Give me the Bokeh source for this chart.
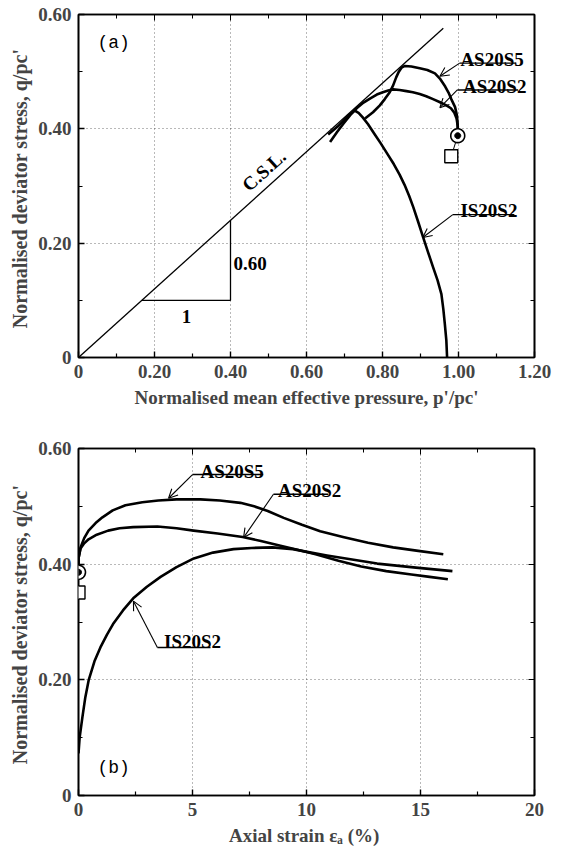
import math
from bokeh.plotting import figure
from bokeh.models import Range1d, FixedTicker, LinearAxis, Arrow, OpenHead, PolyAnnotation
from bokeh.layouts import column
from bokeh.core.properties import value
from bokeh.embed import file_html
from bokeh.resources import INLINE

# ---------------- data: (a) stress paths  p'/pc' vs q/pc' ----------------
is20s2_p = [0.970, 0.968, 0.964, 0.960, 0.955, 0.945, 0.933, 0.920, 0.907, 0.894, 0.881, 0.870, 0.858,
            0.845, 0.830, 0.812, 0.795, 0.778, 0.762, 0.748, 0.737, 0.727, 0.715, 0.700, 0.682, 0.657]
is20s2_q = [0.000, 0.030, 0.059, 0.085, 0.111, 0.135, 0.158, 0.184, 0.210, 0.237, 0.263, 0.283, 0.302,
            0.320, 0.338, 0.357, 0.375, 0.392, 0.408, 0.420, 0.428, 0.432, 0.426, 0.416, 0.404, 0.390]

as20s5_p = [0.998, 0.998, 0.996, 0.991, 0.981, 0.974, 0.965, 0.951, 0.938, 0.918, 0.898, 0.876, 0.859,
            0.850, 0.843, 0.836, 0.828, 0.819, 0.806, 0.793, 0.775, 0.754]
as20s5_q = [0.388, 0.405, 0.423, 0.438, 0.452, 0.463, 0.474, 0.488, 0.497, 0.503, 0.506, 0.509, 0.510,
            0.507, 0.500, 0.490, 0.476, 0.464, 0.452, 0.441, 0.429, 0.418]

as20s2_p = [0.998, 0.998, 0.995, 0.989, 0.980, 0.968, 0.950, 0.933, 0.915, 0.898, 0.880, 0.863, 0.845,
            0.828, 0.815, 0.801, 0.785, 0.767, 0.750, 0.732, 0.715, 0.697, 0.680, 0.662]
as20s2_q = [0.388, 0.405, 0.418, 0.428, 0.436, 0.441, 0.447, 0.452, 0.457, 0.461, 0.464, 0.466, 0.468,
            0.469, 0.467, 0.464, 0.460, 0.453, 0.446, 0.436, 0.424, 0.409, 0.394, 0.377]

csl_p = [0.0, 0.96]
csl_q = [0.0, 0.576]

tri_p = [0.167, 0.40, 0.40]
tri_q = [0.100, 0.100, 0.240]

start_circle_a = (0.998, 0.388)
start_square_a = (0.981, 0.352)

# ---------------- data: (b) axial strain (%) vs q/pc' ----------------
is20s2_e = [0.0, 0.05, 0.17, 0.30, 0.45, 0.70, 0.96, 1.25, 1.54, 1.95, 2.4, 3.0, 3.6, 4.3, 5.06, 5.9,
            6.8, 7.6, 8.5, 9.4, 10.2, 10.9, 12.0, 13.1, 14.8, 16.4]
is20s2_qb = [0.073, 0.100, 0.135, 0.170, 0.200, 0.232, 0.256, 0.278, 0.298, 0.320, 0.341, 0.361, 0.378,
             0.395, 0.410, 0.420, 0.426, 0.428, 0.429, 0.426, 0.420, 0.415, 0.408, 0.401, 0.394, 0.388]

as20s5_e = [0.0, 0.0, 0.09, 0.25, 0.44, 0.75, 1.05, 1.5, 2.06, 2.8, 3.5, 4.3, 5.35, 6.2, 7.1, 7.7, 8.3,
            9.0, 9.8, 10.6, 11.6, 12.7, 13.8, 14.9, 16.0]
as20s5_qb = [0.387, 0.410, 0.429, 0.445, 0.458, 0.471, 0.481, 0.493, 0.502, 0.507, 0.510, 0.512, 0.512,
             0.510, 0.506, 0.500, 0.492, 0.480, 0.468, 0.457, 0.447, 0.437, 0.429, 0.423, 0.417]

as20s2_e = [0.0, 0.0, 0.09, 0.25, 0.44, 0.8, 1.3, 1.8, 2.4, 3.46, 4.3, 5.05, 6.1, 7.2, 8.0, 8.86, 9.6,
            10.4, 11.4, 12.4, 13.5, 14.6, 15.4, 16.2]
as20s2_qb = [0.387, 0.410, 0.427, 0.436, 0.443, 0.451, 0.458, 0.462, 0.464, 0.465, 0.462, 0.458, 0.453,
             0.447, 0.440, 0.432, 0.425, 0.417, 0.406, 0.396, 0.388, 0.382, 0.378, 0.374]

start_circle_b = (0.0, 0.386)
start_square_b = (0.0, 0.351)

# ---------------- ticks ----------------
xa_ticks = [0, 0.2, 0.4, 0.6, 0.8, 1.0, 1.2]
xa_labels = ["0", "0.20", "0.40", "0.60", "0.80", "1.00", "1.20"]
xa_minor = [0.1, 0.3, 0.5, 0.7, 0.9, 1.1]
q_ticks = [0, 0.2, 0.4, 0.6]
q_labels = ["0", "0.20", "0.40", "0.60"]
q_minor = [0.1, 0.3, 0.5]
xb_ticks = [0, 5, 10, 15, 20]
xb_labels = ["0", "5", "10", "15", "20"]
xb_minor = [2.5, 7.5, 12.5, 17.5]

SERIF = "Liberation Serif"
TXT = 19
FRAME_W = 457   # px width of each plot frame
FRAME_H = 345   # px height of each plot frame


def style(p, xt, xl, xm, grid_x):
    p.outline_line_color = "black"
    p.outline_line_width = 1.6
    p.xaxis.ticker = FixedTicker(ticks=xt, minor_ticks=xm)
    p.yaxis.ticker = FixedTicker(ticks=q_ticks, minor_ticks=q_minor)
    p.xaxis.major_label_overrides = dict(zip(xt, xl))
    p.yaxis.major_label_overrides = dict(zip(q_ticks, q_labels))
    for ax in (p.xaxis[0], p.yaxis[0]):
        ax.axis_line_width = 1.6
        ax.major_tick_in = 6
        ax.major_tick_out = 0
        ax.minor_tick_in = 4
        ax.minor_tick_out = 0
        ax.major_tick_line_width = 1.4
        ax.minor_tick_line_width = 1.2
        ax.major_label_text_font = SERIF
        ax.major_label_text_font_style = "bold"
        ax.major_label_text_font_size = f"{TXT}px"
        ax.major_label_standoff = 7
        ax.axis_label_text_font = SERIF
        ax.axis_label_text_font_style = "bold"
        ax.axis_label_text_font_size = f"{TXT}px"
    p.yaxis.axis_label_standoff = 4
    p.yaxis.axis_label_text_font_size = "20px"
    p.xaxis.axis_label_standoff = 6
    for loc, tk, mt in (("right", q_ticks, q_minor), ("above", xt, xm)):
        ax = LinearAxis(ticker=FixedTicker(ticks=tk, minor_ticks=mt))
        ax.major_label_overrides = {t: "" for t in tk}
        ax.major_label_standoff = 0
        ax.major_tick_in = 6
        ax.major_tick_out = 0
        ax.minor_tick_in = 4
        ax.minor_tick_out = 0
        ax.axis_line_width = 1.6
        p.add_layout(ax, loc)
    p.xgrid.ticker = FixedTicker(ticks=grid_x)
    p.ygrid.ticker = FixedTicker(ticks=[0.2, 0.4])
    for g in (p.xgrid[0], p.ygrid[0]):
        g.grid_line_color = "black"
        g.grid_line_alpha = 0.55
        g.grid_line_dash = "1 3"
        g.grid_line_width = 1


def label(p, x, y, t, size=TXT, bold=True, font=SERIF, angle=0.0, align="left", baseline="alphabetic"):
    p.text(x=[x], y=[y], text=[t], text_font=value(font), text_font_size=f"{size}px",
           text_font_style="bold" if bold else "normal", angle=angle,
           text_align=align, text_baseline=baseline, text_color="black")


def callout(p, tx, ty, ux0, ux1, uy, ax, ay, t):
    label(p, tx, ty, t)
    p.segment(x0=[ux0], y0=[uy], x1=[ux1], y1=[uy], line_color="black", line_width=1.4)
    p.add_layout(Arrow(end=OpenHead(size=9, line_width=1.1), x_start=ux0, y_start=uy,
                       x_end=ax, y_end=ay, line_width=1.1))


def markers(p, circ, sq, xspan, yspan):
    # drawn as (unclipped) annotations so that they can sit on the axis line
    sx = xspan / FRAME_W   # data units per pixel
    sy = yspan / FRAME_H
    p.line([sq[0], circ[0]], [sq[1], circ[1]], line_color="black", line_width=1)

    def poly(cx, cy, r, n, fill, lw):
        angs = [2 * math.pi * k / n + math.pi / n for k in range(n)]
        xs = [cx + r * math.cos(a) * sx for a in angs]
        ys = [cy + r * math.sin(a) * sy for a in angs]
        p.add_layout(PolyAnnotation(xs=xs, ys=ys, fill_color=fill, fill_alpha=1.0,
                                    line_color="black", line_alpha=1.0, line_width=lw))

    poly(sq[0], sq[1], 6.5 * math.sqrt(2), 4, "white", 1.4)
    poly(circ[0], circ[1], 7.0, 36, "white", 1.6)
    poly(circ[0], circ[1], 3.0, 24, "black", 1.0)


# ---------------- figure (a) ----------------
pa = figure(width=562, height=420, x_range=Range1d(0, 1.2), y_range=Range1d(0, 0.6),
            output_backend="svg", toolbar_location=None,
            min_border_left=78, min_border_right=27, min_border_top=14, min_border_bottom=63)
pa.xaxis.axis_label = "Normalised mean effective pressure, p'/pc'"
pa.yaxis.axis_label = "Normalised deviator stress,  q/pc'"
style(pa, xa_ticks, xa_labels, xa_minor, [0.2, 0.4, 0.6, 0.8, 1.0])

pa.line(csl_p, csl_q, line_color="black", line_width=1.3)
pa.line(tri_p, tri_q, line_color="black", line_width=1.3)
pa.line(is20s2_p, is20s2_q, line_color="black", line_width=2.6, line_join="round")
pa.line(as20s5_p, as20s5_q, line_color="black", line_width=2.6, line_join="round")
pa.line(as20s2_p, as20s2_q, line_color="black", line_width=2.6, line_join="round")
markers(pa, start_circle_a, start_square_a, 1.2, 0.6)

label(pa, 0.05, 0.55, "(a)", size=18, bold=False, font="Liberation Mono", baseline="middle")
label(pa, 0.408, 0.165, "0.60", baseline="middle")
label(pa, 0.284, 0.072, "1", align="center", baseline="middle")
label(pa, 0.488, 0.327, "C.S.L.", angle=0.733, align="center", baseline="alphabetic")
callout(pa, 1.005, 0.521, 1.003, 1.152, 0.515, 0.951, 0.492, "AS20S5")
callout(pa, 1.012, 0.474, 0.997, 1.157, 0.468, 0.951, 0.437, "AS20S2")
callout(pa, 1.005, 0.257, 0.985, 1.147, 0.250, 0.906, 0.210, "IS20S2")

# ---------------- figure (b) ----------------
pb = figure(width=562, height=430, x_range=Range1d(0, 20), y_range=Range1d(0, 0.6),
            output_backend="svg", toolbar_location=None,
            min_border_left=78, min_border_right=28, min_border_top=28, min_border_bottom=55)
pb.xaxis.axis_label = "Axial strain  εₐ (%)"
pb.yaxis.axis_label = "Normalised deviator stress,  q/pc'"
style(pb, xb_ticks, xb_labels, xb_minor, [5, 10, 15])

pb.line(is20s2_e, is20s2_qb, line_color="black", line_width=2.6, line_join="round")
pb.line(as20s5_e, as20s5_qb, line_color="black", line_width=2.6, line_join="round")
pb.line(as20s2_e, as20s2_qb, line_color="black", line_width=2.6, line_join="round")
markers(pb, start_circle_b, start_square_b, 20.0, 0.6)

label(pb, 0.83, 0.047, "(b)", size=18, bold=False, font="Liberation Mono", baseline="middle")
callout(pb, 5.35, 0.561, 5.0, 8.1, 0.555, 3.95, 0.514, "AS20S5")
callout(pb, 8.75, 0.528, 8.55, 10.96, 0.521, 7.24, 0.446, "AS20S2")
callout(pb, 3.75, 0.266, 3.46, 5.79, 0.256, 2.41, 0.336, "IS20S2")

layout = column(pa, pb)
open("out.html", "w").write(file_html(layout, INLINE))
